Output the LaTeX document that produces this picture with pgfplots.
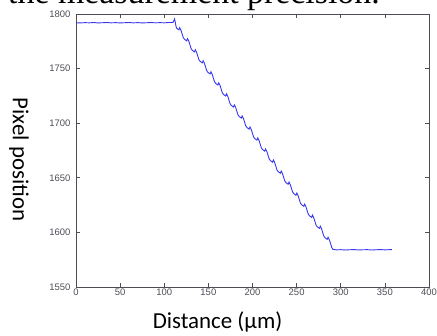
\documentclass[border=0pt]{standalone}
\usepackage{pgfplots}
\pgfplotsset{compat=1.18}
\usepackage{fontspec}
\setmainfont{Liberation Sans}
\newfontfamily\calibri{Carlito}
\newfontfamily\serifA{Liberation Serif}
\definecolor{lineblue}{RGB}{55,55,240}
\definecolor{axgray}{RGB}{80,75,85}
\begin{document}
\begin{tikzpicture}
\begin{axis}[
  at={(76bp,49bp)}, anchor=south west,
  scale only axis, width=353bp, height=273bp,
  xmin=0, xmax=400, ymin=1550, ymax=1800,
  xtick={0,50,...,400}, ytick={1550,1600,...,1800},
  tick align=inside, major tick length=4bp,
  axis line style={axgray, line width=0.6bp},
  every tick/.style={axgray, line width=0.6bp},
  tick label style={font=\fontsize{9.5}{10}\selectfont, text=axgray},
  /pgf/number format/assume math mode=true,
  /pgf/number format/1000 sep={},
  xticklabel style={yshift=1.5bp},
  yticklabel style={xshift=-2bp},
  xlabel={Distance (µm)},
  xlabel style={font=\calibri\fontsize{23}{23}\selectfont, at={(axis description cs:0.401,0)}, anchor=base, yshift=-41bp},
  ylabel={Pixel position},
  ylabel style={font=\calibri\fontsize{23}{23}\selectfont, at={(axis description cs:-0.1785,0.467)}, rotate=180, anchor=base},
]
\addplot[lineblue, line width=0.9bp] coordinates {
(0,1792.0) (5,1791.8) (10,1792.1) (15,1791.9) (20,1792.2) (25,1791.8) (30,1792.0) (35,1792.2) (40,1791.9) (45,1792.1)
(50,1791.8) (55,1792.0) (60,1792.2) (65,1791.9) (70,1792.1) (75,1791.8) (80,1792.0) (85,1792.2) (90,1791.9) (95,1792.1)
(100,1791.9) (105,1792.2) (110,1792.3) (111.7,1795.5) (112.6,1792.0) (113.4,1788.5) (114,1787)
(116.5,1785.5) (117.5,1787.5) (119,1785) (121.5,1778.5)
(122.9,1776.9) (125.4,1775.4) (126.4,1777.4) (127.9,1774.9) (130.4,1768.4)
(131.7,1766.8) (134.2,1765.3) (135.2,1767.3) (136.7,1764.8) (139.2,1758.3)
(140.6,1756.7) (143.1,1755.2) (144.1,1757.2) (145.6,1754.7) (148.1,1748.2)
(149.4,1746.6) (151.9,1745.1) (152.9,1747.1) (154.4,1744.6) (156.9,1738.1)
(158.25,1736.5) (160.75,1735) (161.75,1737) (163.25,1734.5) (165.75,1728)
(167.1,1726.4) (169.6,1724.9) (170.6,1726.9) (172.1,1724.4) (174.6,1717.9)
(175.95,1716.3) (178.45,1714.8) (179.45,1716.8) (180.95,1714.3) (183.45,1707.8)
(184.8,1706.2) (187.3,1704.7) (188.3,1706.7) (189.8,1704.2) (192.3,1697.7)
(193.65,1696.1) (196.15,1694.6) (197.15,1696.6) (198.65,1694.1) (201.15,1687.6)
(202.5,1686) (205,1684.5) (206,1686.5) (207.5,1684) (210,1677.5)
(211.35,1675.9) (213.85,1674.4) (214.85,1676.4) (216.35,1673.9) (218.85,1667.4)
(220.2,1665.8) (222.7,1664.3) (223.7,1666.3) (225.2,1663.8) (227.7,1657.3)
(229.05,1655.7) (231.55,1654.2) (232.55,1656.2) (234.05,1653.7) (236.55,1647.2)
(237.9,1645.6) (240.4,1644.1) (241.4,1646.1) (242.9,1643.6) (245.4,1637.1)
(246.75,1635.5) (249.25,1634) (250.25,1636) (251.75,1633.5) (254.25,1627)
(255.6,1625.4) (258.1,1623.9) (259.1,1625.9) (260.6,1623.4) (263.1,1616.9)
(264.45,1615.3) (266.95,1613.8) (267.95,1615.8) (269.45,1613.3) (271.95,1606.8)
(273.3,1605.2) (275.8,1603.7) (276.8,1605.7) (278.3,1603.2) (280.8,1596.7)
(282.15,1595.1) (284.65,1593.6) (285.65,1595.6) (287.15,1593.1) (289.65,1586.6)
(291,1584.5) (295,1584.0) (300,1584.2) (305,1583.9) (310,1584.1) (315,1584.3) (320,1583.9) (325,1584.1)
(330,1584.2) (335,1583.9) (340,1584.1) (345,1584.3) (350,1584.0) (355,1584.2) (358,1584.3)
};
\end{axis}
\node[anchor=base west, inner sep=0pt, font=\serifA\fontsize{34}{34}\selectfont] at (8bp,332bp) {the measurement precision.};
\pgfresetboundingbox
\path[use as bounding box] (0,0) rectangle (437bp,336bp);
\end{tikzpicture}
\end{document}
